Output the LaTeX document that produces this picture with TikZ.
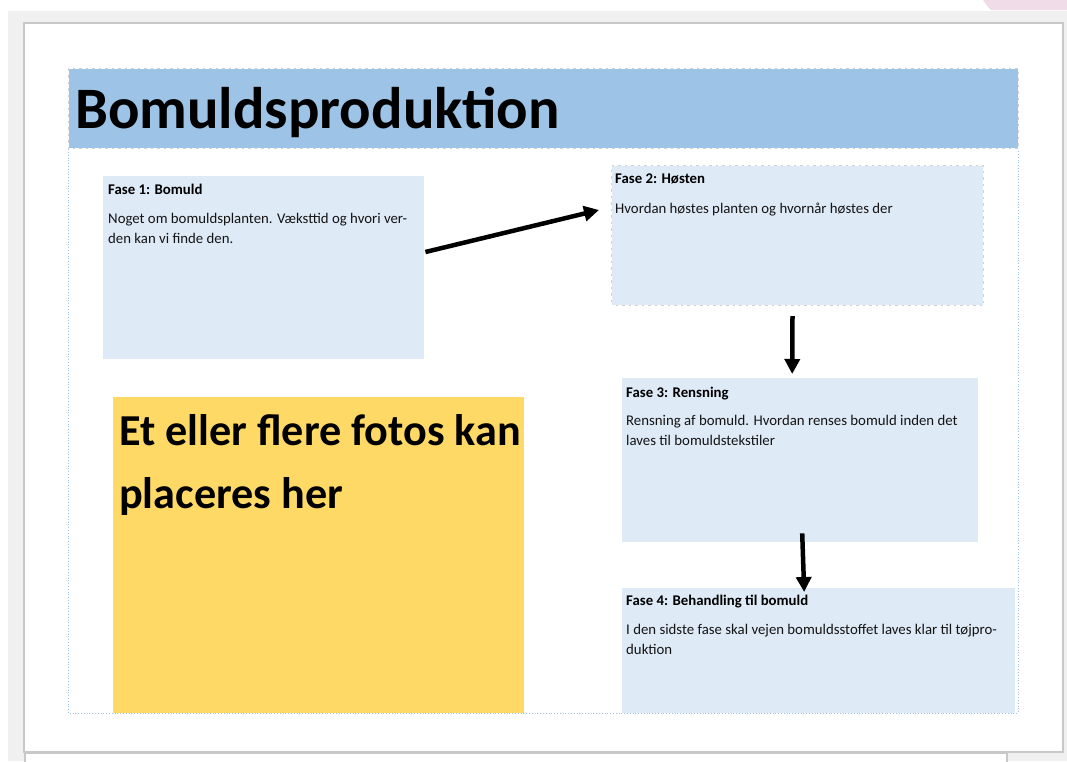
\documentclass[tikz,border=0pt]{standalone}
\usepackage{fontspec}
\setmainfont{Carlito}
\usetikzlibrary{arrows.meta,calc}
\definecolor{bgc}{HTML}{F0F0F0}
\definecolor{titlebarc}{HTML}{9DC3E6}
\definecolor{phasec}{HTML}{DEEAF6}
\definecolor{photoc}{HTML}{FFD966}
\definecolor{pagebdc}{HTML}{C8C8C8}
\definecolor{pinkc}{HTML}{F0DCE8}
\definecolor{framec}{HTML}{9DC3E6}
\begin{document}
\begin{tikzpicture}[x=1pt,y=-1pt,
  panel/.style={fill=phasec, draw=none, inner sep=0pt, anchor=north west},
  dashrim/.style={draw=black!18, line width=1pt, postaction={draw=white, line width=1pt, dash pattern=on 4pt off 2.5pt}},
  heading/.style={anchor=base west, inner sep=0pt, font=\fontsize{14.8}{20}\selectfont\bfseries, text=black},
  bodytext/.style={anchor=base west, inner sep=0pt, align=left, font=\fontsize{14.8}{20}\selectfont, text=black!92},
  conn/.style={line width=4.5pt, draw=black, -{Triangle[length=15pt,width=15pt]}}]
\useasboundingbox (0,0) rectangle (1067,761);
% window background
\fill[bgc] (0,0) rectangle (1067,761);
\fill[white] (0,0) rectangle (1067,11);
\fill[white] (0,0) rectangle (8,761);
\fill[pinkc] (983,0) -- (1067,0) -- (1067,10) -- (991,10) -- (988,7) -- (985,3) -- cycle;
% pages
\draw[pagebdc, fill=white, line width=1.2pt] (24,23) rectangle (1063,752);
\draw[pagebdc, fill=white, line width=1.2pt] (25,753) rectangle (1007,766);
% dotted frame
\draw[framec, dotted, line width=0.8pt] (68,68) rectangle (1018,713);
% title bar
\node[panel, fill=titlebarc, dashrim, minimum width=950pt, minimum height=80pt] (title) at (68,68) {};
\node[anchor=base west, inner sep=0pt, font=\fontsize{58.7}{60}\selectfont\bfseries] (titletext) at (75,128) {Bomuldsproduktion};
% phase boxes
\node[panel, minimum width=321pt, minimum height=183pt] (box1) at (103,176) {};
\node[panel, dashrim, minimum width=372pt, minimum height=140pt] (box2) at (611,165) {};
\node[panel, minimum width=356pt, minimum height=164pt] (box3) at (622,378) {};
\node[panel, minimum width=393pt, minimum height=125pt] (box4) at (622,588) {};
% photo placeholder
\node[panel, fill=photoc, minimum width=411pt, minimum height=316pt] (photo) at (113,397) {};
% (base anchor of a two-line node = baseline of its last line)
\node[anchor=base west, inner sep=0pt, align=left, font=\fontsize{44.2}{63}\selectfont\bfseries] (phototext) at (119,508) {Et eller flere fotos kan\\placeres her};
% texts
\node[heading] (h1) at ($(box1.north west)+(5,18)$) {Fase 1: Bomuld};
\node[bodytext] (b1) at ($(box1.north west)+(5,67)$) {Noget om bomuldsplanten. Væksttid og hvori ver-\\den kan vi finde den.};
\node[heading] (h2) at ($(box2.north west)+(4,18)$) {Fase 2: Høsten};
\node[bodytext] (b2) at ($(box2.north west)+(4,48)$) {Hvordan høstes planten og hvornår høstes der};
\node[heading] (h3) at ($(box3.north west)+(4,19)$) {Fase 3: Rensning};
\node[bodytext] (b3) at ($(box3.north west)+(4,67)$) {Rensning af bomuld. Hvordan renses bomuld inden det\\laves til bomuldstekstiler};
\node[heading] (h4) at ($(box4.north west)+(4,17)$) {Fase 4: Behandling til bomuld};
\node[bodytext] (b4) at ($(box4.north west)+(4,66)$) {I den sidste fase skal vejen bomuldsstoffet laves klar til tøjpro-\\duktion};
% connectors
\draw[conn] ($(box1.north east)+(1,76)$) -- ($(box2.north west)+(-12,45)$);
\draw[conn] ($(box2.south)+(-5,10)$) -- ($(box3.north)+(-8,-4)$);
\draw[conn] ($(box3.south)+(2,-9)$) -- ($(box4.north)+(-14.5,4)$);
\end{tikzpicture}
\end{document}
